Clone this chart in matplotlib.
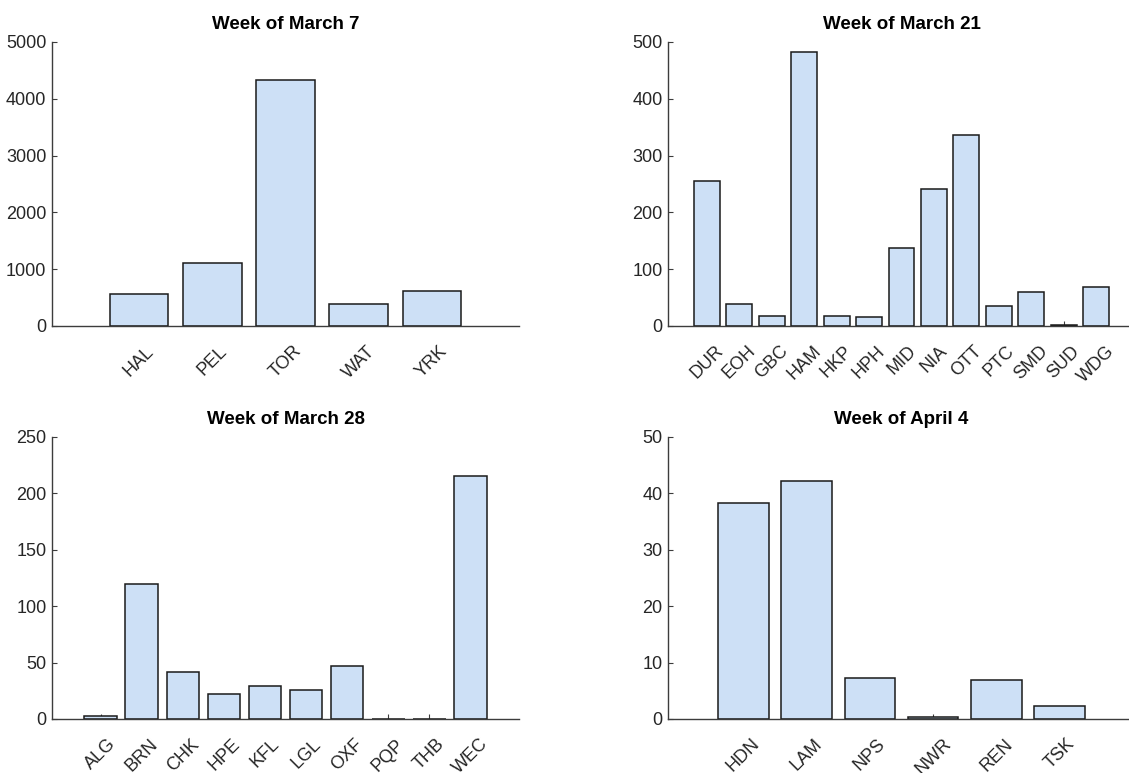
import matplotlib
matplotlib.use("Agg")
import matplotlib.pyplot as plt
from matplotlib import font_manager

# weekly counts by site code
mar7_sites = ["HAL", "PEL", "TOR", "WAT", "YRK"]
mar7_vals = [558, 1109, 4325, 382, 622]

mar21_sites = ["DUR", "EOH", "GBC", "HAM", "HKP", "HPH", "MID", "NIA", "OTT",
               "PTC", "SMD", "SUD", "WDG"]
mar21_vals = [255.6, 38.2, 18.2, 482.4, 18.2, 15.9, 138, 242, 335.5,
              35.8, 59.9, 2, 68.7]

mar28_sites = ["ALG", "BRN", "CHK", "HPE", "KFL", "LGL", "OXF", "PQP", "THB", "WEC"]
mar28_vals = [2.4, 119.4, 41.3, 22.4, 29.2, 25.6, 47.2, 0, 0, 215.2]

apr4_sites = ["HDN", "LAM", "NPS", "NWR", "REN", "TSK"]
apr4_vals = [38.3, 42.2, 7.2, 0.3, 6.96, 2.24]

names = {f.name for f in font_manager.fontManager.ttflist}
if "Liberation Sans Narrow" in names:
    family, tick_size, title_size = "Liberation Sans Narrow", 14, 15.5
else:
    family, tick_size, title_size = "Liberation Sans", 13, 13.5
plt.rcParams["font.family"] = family

fig = plt.figure(figsize=(11.29, 7.73), dpi=100)

panels = [
    ("Week of March 7", mar7_sites, mar7_vals, 5000, 1000, [0.0461, 0.5783, 0.4136, 0.3674]),
    ("Week of March 21", mar21_sites, mar21_vals, 500, 100, [0.5917, 0.5783, 0.4136, 0.3674]),
    ("Week of March 28", mar28_sites, mar28_vals, 250, 50, [0.0461, 0.0699, 0.4136, 0.3648]),
    ("Week of April 4", apr4_sites, apr4_vals, 50, 10, [0.5917, 0.0699, 0.4136, 0.3648]),
]

axis_col = "#3c3c3c"
for title, sites, vals, ymax, ystep, pos in panels:
    ax = fig.add_axes(pos)
    x = list(range(len(sites)))
    ax.bar(x, vals, width=0.8, color="#cde0f6", edgecolor="#1a1a1a", linewidth=1.1, zorder=2)
    ax.set_xlim(-1.19, len(sites) - 1 + 1.19)
    ax.set_ylim(0, ymax)
    ax.set_yticks(range(0, ymax + 1, ystep))
    ax.set_xticks(x)
    ax.set_xticklabels(sites, rotation=45, ha="center", va="top")
    for s in ("top", "right"):
        ax.spines[s].set_visible(False)
    for s in ("left", "bottom"):
        ax.spines[s].set_color(axis_col)
        ax.spines[s].set_linewidth(1.0)
        ax.spines[s].set_zorder(3)
    ax.tick_params(axis="both", direction="in", length=3.5, width=0.8,
                   color=axis_col, labelcolor="#262626", labelsize=tick_size)
    ax.tick_params(axis="x", pad=12)
    ax.tick_params(axis="y", pad=4)
    ax.set_title(title, fontsize=title_size, fontweight="bold", pad=9)

fig.savefig("out.png", dpi=100)
